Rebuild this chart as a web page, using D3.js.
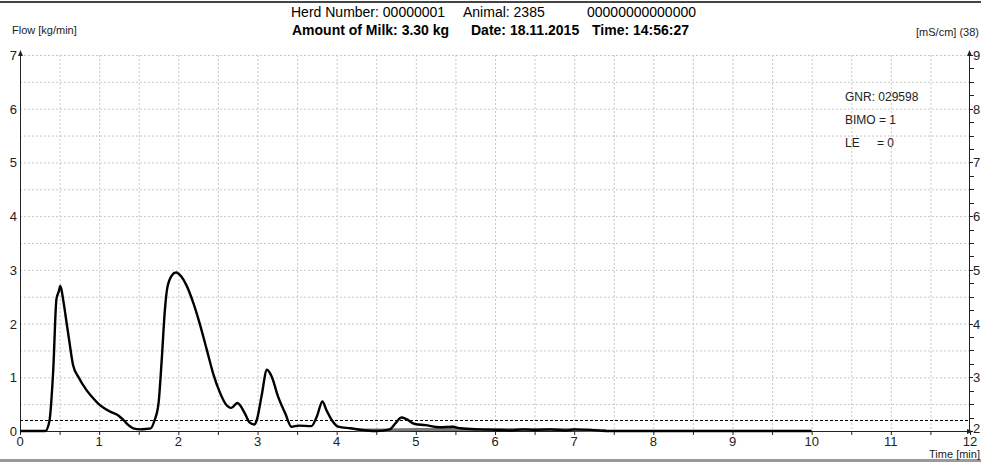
<!DOCTYPE html>
<html>
<head>
<meta charset="utf-8">
<script src="https://cdn.jsdelivr.net/npm/d3@7"></script>
<style>
  html, body { margin: 0; padding: 0; background: #fff; }
  svg { display: block; font-family: "Liberation Sans", Arial, sans-serif; }
</style>
</head>
<body>
<svg id="chart" width="981" height="464"></svg>
<script>
// Milking curve: flow (kg/min) over time (min)
const timeMin = [0, 0.32, 0.37, 0.42, 0.46, 0.49, 0.51, 0.55, 0.59, 0.63, 0.67, 0.74, 0.84, 0.93, 1.01, 1.14, 1.25, 1.31, 1.37, 1.43, 1.52, 1.6, 1.65, 1.7, 1.75, 1.79, 1.83, 1.86, 1.92, 1.97, 2.04, 2.1, 2.19, 2.27, 2.36, 2.44, 2.53, 2.59, 2.67, 2.745, 2.84, 2.9, 2.96, 2.99, 3.05, 3.12, 3.18, 3.26, 3.35, 3.43, 3.52, 3.68, 3.75, 3.82, 3.87, 3.94, 4.02, 4.17, 4.38, 4.5, 4.67, 4.74, 4.82, 4.88, 4.99, 5.12, 5.3, 5.47, 5.56, 5.81, 6.06, 6.2, 6.35, 6.5, 6.7, 6.9, 7.0, 7.2, 7.4, 10.0];
const flowKg = [0, 0, 0.17, 1.14, 2.45, 2.6, 2.7, 2.4, 2.0, 1.6, 1.23, 1.0, 0.76, 0.6, 0.48, 0.36, 0.28, 0.2, 0.11, 0.05, 0.03, 0.04, 0.05, 0.2, 0.52, 1.32, 2.25, 2.66, 2.9, 2.95, 2.87, 2.72, 2.38, 2.0, 1.51, 1.07, 0.7, 0.52, 0.43, 0.52, 0.33, 0.16, 0.12, 0.2, 0.64, 1.14, 1.01, 0.64, 0.33, 0.08, 0.1, 0.09, 0.27, 0.55, 0.39, 0.2, 0.08, 0.05, 0.01, 0, 0.03, 0.14, 0.25, 0.22, 0.13, 0.11, 0.07, 0.08, 0.05, 0.03, 0.02, 0.01, 0.03, 0.02, 0.03, 0.01, 0.03, 0.02, 0, 0];

// Low residual trace drawn in grey under the flow curve
const traceTime = [4.25, 4.6, 5.0, 5.5, 5.9, 6.2, 6.5, 6.8, 7.1, 7.4];
const traceFlow = [0.02, 0.02, 0.03, 0.03, 0.03, 0.03, 0.03, 0.03, 0.02, 0.01];

const xTicks = [0, 1, 2, 3, 4, 5, 6, 7, 8, 9, 10, 11, 12];
const yTicks = [0, 1, 2, 3, 4, 5, 6, 7];
const condTicks = [2, 3, 4, 5, 6, 7, 8, 9];
const flowThreshold = 0.2;

const headerLine1 = [
  { text: "Herd Number: 00000001", x: 291 },
  { text: "Animal: 2385", x: 463 },
  { text: "00000000000000", x: 587 }
];
const headerLine2 = [
  { text: "Amount of Milk: 3.30 kg", x: 292 },
  { text: "Date: 18.11.2015", x: 471 },
  { text: "Time: 14:56:27", x: 592 }
];
const infoLines = [
  { key: "GNR: 029598", val: "" },
  { key: "BIMO = 1", val: "" },
  { key: "LE", val: "= 0" }
];

const svg = d3.select("#chart");
const x = d3.scaleLinear().domain([0, 12]).range([20, 970]);
const y = d3.scaleLinear().domain([0, 7]).range([431, 55]);
const yCond = d3.scaleLinear().domain([2, 9]).range([431, 55]);

// page rules
svg.append("line").attr("x1", 0).attr("x2", 981).attr("y1", 2).attr("y2", 2)
  .attr("stroke", "#444").attr("stroke-width", 2);
svg.append("line").attr("x1", 0).attr("x2", 981).attr("y1", 460.5).attr("y2", 460.5)
  .attr("stroke", "#9a9a9a").attr("stroke-width", 3);

// grid
const grid = svg.append("g").attr("stroke", "#c8c8c8").attr("stroke-width", 1)
  .attr("stroke-dasharray", "2,2");
d3.range(1, 24).forEach(i => {
  grid.append("line").attr("x1", x(i / 2) + 0.5).attr("x2", x(i / 2) + 0.5)
    .attr("y1", y(7)).attr("y2", y(0));
});
d3.range(1, 15).forEach(i => {
  grid.append("line").attr("x1", x(0)).attr("x2", x(12))
    .attr("y1", y(i / 2) + 0.5).attr("y2", y(i / 2) + 0.5);
});

// threshold line
svg.append("line").attr("x1", x(0)).attr("x2", x(12))
  .attr("y1", Math.round(y(flowThreshold)) + 0.5).attr("y2", Math.round(y(flowThreshold)) + 0.5)
  .attr("stroke", "#000").attr("stroke-width", 1).attr("stroke-dasharray", "3,2");

// axes
const axisCol = "#222";
svg.append("line").attr("x1", x(0)).attr("x2", x(12)).attr("y1", y(0) + 0.5).attr("y2", y(0) + 0.5)
  .attr("stroke", axisCol);
svg.append("line").attr("x1", x(0) + 0.5).attr("x2", x(0) + 0.5).attr("y1", y(0)).attr("y2", y(7) - 3)
  .attr("stroke", axisCol);
svg.append("line").attr("x1", x(12) - 0.5).attr("x2", x(12) - 0.5).attr("y1", y(0)).attr("y2", y(7) - 3)
  .attr("stroke", axisCol);
// arrow heads
svg.append("path").attr("d", `M${x(0) + 0.5},${y(7) - 5} l-2.5,6 h5 z`).attr("fill", axisCol);
svg.append("path").attr("d", `M${x(12) - 0.5},${y(7) - 5} l-2.5,6 h5 z`).attr("fill", axisCol);
svg.append("path").attr("d", `M${x(12) + 3},${y(0) + 0.5} l-6,-2.5 v5 z`).attr("fill", axisCol);

// x ticks every half minute
const xTickG = svg.append("g").attr("stroke", axisCol);
d3.range(0, 25).forEach(i => {
  xTickG.append("line").attr("x1", x(i / 2) + 0.5).attr("x2", x(i / 2) + 0.5)
    .attr("y1", y(0)).attr("y2", y(0) + 4);
});
svg.append("g").selectAll("text").data(xTicks).join("text")
  .attr("x", d => x(d)).attr("y", 446).attr("text-anchor", "middle")
  .attr("font-size", 13).attr("fill", "#222").text(d => d);

// left ticks
svg.append("g").selectAll("text").data(yTicks).join("text")
  .attr("x", 17).attr("y", d => y(d) + 5).attr("text-anchor", "end")
  .attr("font-size", 13).attr("fill", "#222").text(d => d);

// right ticks (conductivity)
const rTickG = svg.append("g").attr("stroke", axisCol);
d3.range(0, 29).forEach(i => {
  const v = 2 + i * 0.25;
  rTickG.append("line").attr("x1", x(12)).attr("x2", x(12) + (i % 4 === 0 ? 3 : 4))
    .attr("y1", Math.round(yCond(v)) + 0.5).attr("y2", Math.round(yCond(v)) + 0.5);
});
svg.append("g").selectAll("text").data(condTicks).join("text")
  .attr("x", 973).attr("y", d => yCond(d) + (d === 2 ? 2 : 5)).attr("text-anchor", "start")
  .attr("font-size", 13).attr("fill", "#222").text(d => d);

// axis titles
svg.append("text").attr("x", 12).attr("y", 34).attr("font-size", 11).attr("fill", "#222")
  .text("Flow [kg/min]");
svg.append("text").attr("x", 979).attr("y", 36).attr("font-size", 11).attr("fill", "#222")
  .attr("text-anchor", "end").text("[mS/cm] (38)");
svg.append("text").attr("x", 980).attr("y", 458).attr("font-size", 11).attr("fill", "#222")
  .attr("text-anchor", "end").text("Time [min]");

// header
svg.append("g").selectAll("text").data(headerLine1).join("text")
  .attr("x", d => d.x).attr("y", 17).attr("font-size", 14).attr("fill", "#000").text(d => d.text);
svg.append("g").selectAll("text").data(headerLine2).join("text")
  .attr("x", d => d.x).attr("y", 35).attr("font-size", 14).attr("font-weight", "bold")
  .attr("fill", "#000").text(d => d.text);

// info box
const info = svg.append("g").attr("font-size", 12).attr("fill", "#222");
infoLines.forEach((d, i) => {
  info.append("text").attr("x", 845).attr("y", 101 + i * 23).text(d.key);
  if (d.val) info.append("text").attr("x", 877).attr("y", 101 + i * 23).text(d.val);
});

// curves
const line = d3.line().x(d => x(d[0])).y(d => y(d[1])).curve(d3.curveMonotoneX);
svg.append("path").datum(d3.zip(traceTime, traceFlow)).attr("d", line)
  .attr("fill", "none").attr("stroke", "#777").attr("stroke-width", 3);
svg.append("path").datum(d3.zip(timeMin, flowKg)).attr("d", line)
  .attr("fill", "none").attr("stroke", "#000").attr("stroke-width", 2.4)
  .attr("stroke-linejoin", "round");
</script>
</body>
</html>
